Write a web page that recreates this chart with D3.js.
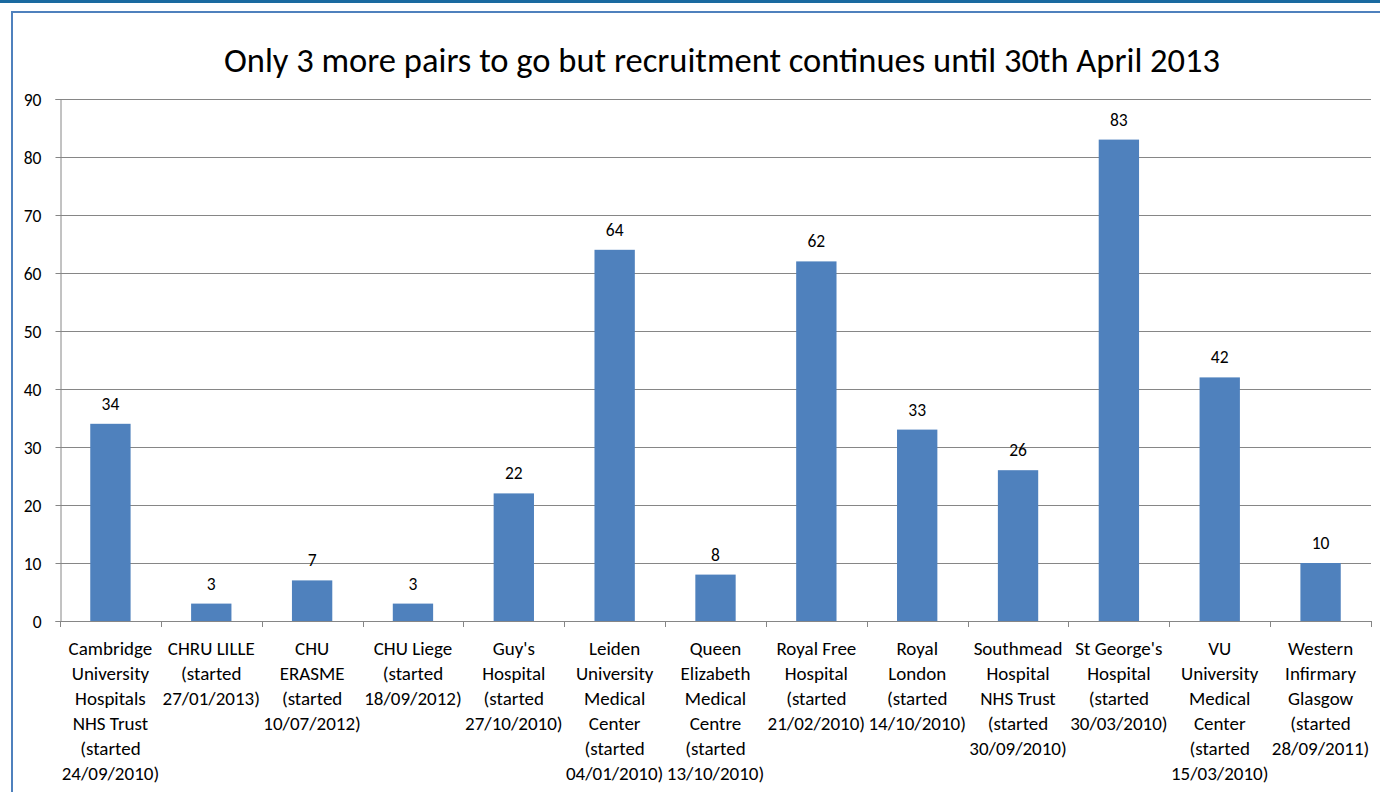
<!DOCTYPE html>
<html>
<head>
<meta charset="utf-8">
<script src="https://cdn.jsdelivr.net/npm/d3@7"></script>
<style>
  body { margin: 0; background: #fff; }
  svg { display: block; font-family: Carlito, Calibri, Lato, sans-serif; }
</style>
</head>
<body>
<svg width="1380" height="792"></svg>
<script>
// data
var hospitals = [
  ["Cambridge", "University", "Hospitals", "NHS Trust", "(started", "24/09/2010)"],
  ["CHRU LILLE", "(started", "27/01/2013)"],
  ["CHU", "ERASME", "(started", "10/07/2012)"],
  ["CHU Liege", "(started", "18/09/2012)"],
  ["Guy's", "Hospital", "(started", "27/10/2010)"],
  ["Leiden", "University", "Medical", "Center", "(started", "04/01/2010)"],
  ["Queen", "Elizabeth", "Medical", "Centre", "(started", "13/10/2010)"],
  ["Royal Free", "Hospital", "(started", "21/02/2010)"],
  ["Royal", "London", "(started", "14/10/2010)"],
  ["Southmead", "Hospital", "NHS Trust", "(started", "30/09/2010)"],
  ["St George's", "Hospital", "(started", "30/03/2010)"],
  ["VU", "University", "Medical", "Center", "(started", "15/03/2010)"],
  ["Western", "Infirmary", "Glasgow", "(started", "28/09/2011)"]
];
var pairs = [34, 3, 7, 3, 22, 64, 8, 62, 33, 26, 83, 42, 10];
var yTicks = [0, 10, 20, 30, 40, 50, 60, 70, 80, 90];
var title = "Only 3 more pairs to go but recruitment continues until 30th April 2013";

var svg = d3.select("svg");

// top rule and chart frame
svg.append("rect").attr("x", 0).attr("y", 0).attr("width", 1380).attr("height", 3)
   .attr("fill", "#1a6aa0");
svg.append("path").attr("d", "M12,800 V12 H1390")
   .attr("fill", "none").attr("stroke", "#4f81bd").attr("stroke-width", 2);

var plotLeft = 60, plotRight = 1371, plotTop = 99, plotBottom = 621;

var x = d3.scaleBand()
  .domain(d3.range(pairs.length))
  .range([plotLeft, plotRight])
  .paddingInner(0.6).paddingOuter(0.3);

var y = d3.scaleLinear().domain([0, 90]).range([plotBottom, plotTop]);

// title
svg.append("text")
   .attr("x", 722).attr("y", 72)
   .attr("text-anchor", "middle")
   .attr("font-size", 34.5)
   .attr("fill", "#000")
   .text(title);

// gridlines
svg.append("g").selectAll("line")
   .data(yTicks.slice(1))
   .join("line")
   .attr("x1", plotLeft).attr("x2", plotRight)
   .attr("y1", d => y(d) + 0.5).attr("y2", d => y(d) + 0.5)
   .attr("stroke", "#868686");

// y axis
var yAxis = svg.append("g")
   .attr("transform", "translate(" + (plotLeft + 0.5) + ",0)")
   .call(d3.axisLeft(y).tickValues(yTicks).tickSize(5).tickPadding(14));
yAxis.select(".domain").attr("stroke", "#868686");
yAxis.selectAll(".tick line").attr("stroke", "#868686");
yAxis.selectAll(".tick text").attr("font-size", 17.5).attr("fill", "#000")
   .attr("dy", 6.5)
   .attr("font-family", "Carlito, Calibri, Lato, sans-serif");

// bars
svg.append("g").selectAll("rect")
   .data(pairs)
   .join("rect")
   .attr("x", (d, i) => x(i))
   .attr("width", x.bandwidth())
   .attr("y", d => y(d))
   .attr("height", d => plotBottom - y(d))
   .attr("fill", "#4f81bd");

// value labels
svg.append("g").selectAll("text")
   .data(pairs)
   .join("text")
   .attr("x", (d, i) => x(i) + x.bandwidth() / 2)
   .attr("y", d => y(d) - 14)
   .attr("text-anchor", "middle")
   .attr("font-size", 17.5)
   .attr("fill", "#000")
   .text(d => d);

// x axis line + ticks between categories
var step = (plotRight - plotLeft) / pairs.length;
svg.append("line")
   .attr("x1", plotLeft).attr("x2", plotRight)
   .attr("y1", plotBottom + 0.5).attr("y2", plotBottom + 0.5)
   .attr("stroke", "#868686");
svg.append("g").selectAll("line")
   .data(d3.range(pairs.length + 1))
   .join("line")
   .attr("x1", d => Math.round(plotLeft + d * step) + 0.5)
   .attr("x2", d => Math.round(plotLeft + d * step) + 0.5)
   .attr("y1", plotBottom).attr("y2", plotBottom + 6)
   .attr("stroke", "#868686");

// category labels
var labels = svg.append("g").selectAll("text")
   .data(hospitals)
   .join("text")
   .attr("text-anchor", "middle")
   .attr("font-size", 19)
   .attr("fill", "#000");
labels.selectAll("tspan")
   .data((d, i) => d.map(t => ({t: t, i: i})))
   .join("tspan")
   .attr("x", d => x(d.i) + x.bandwidth() / 2)
   .attr("y", (d, j) => 655 + j * 25)
   .text(d => d.t);
</script>
</body>
</html>
